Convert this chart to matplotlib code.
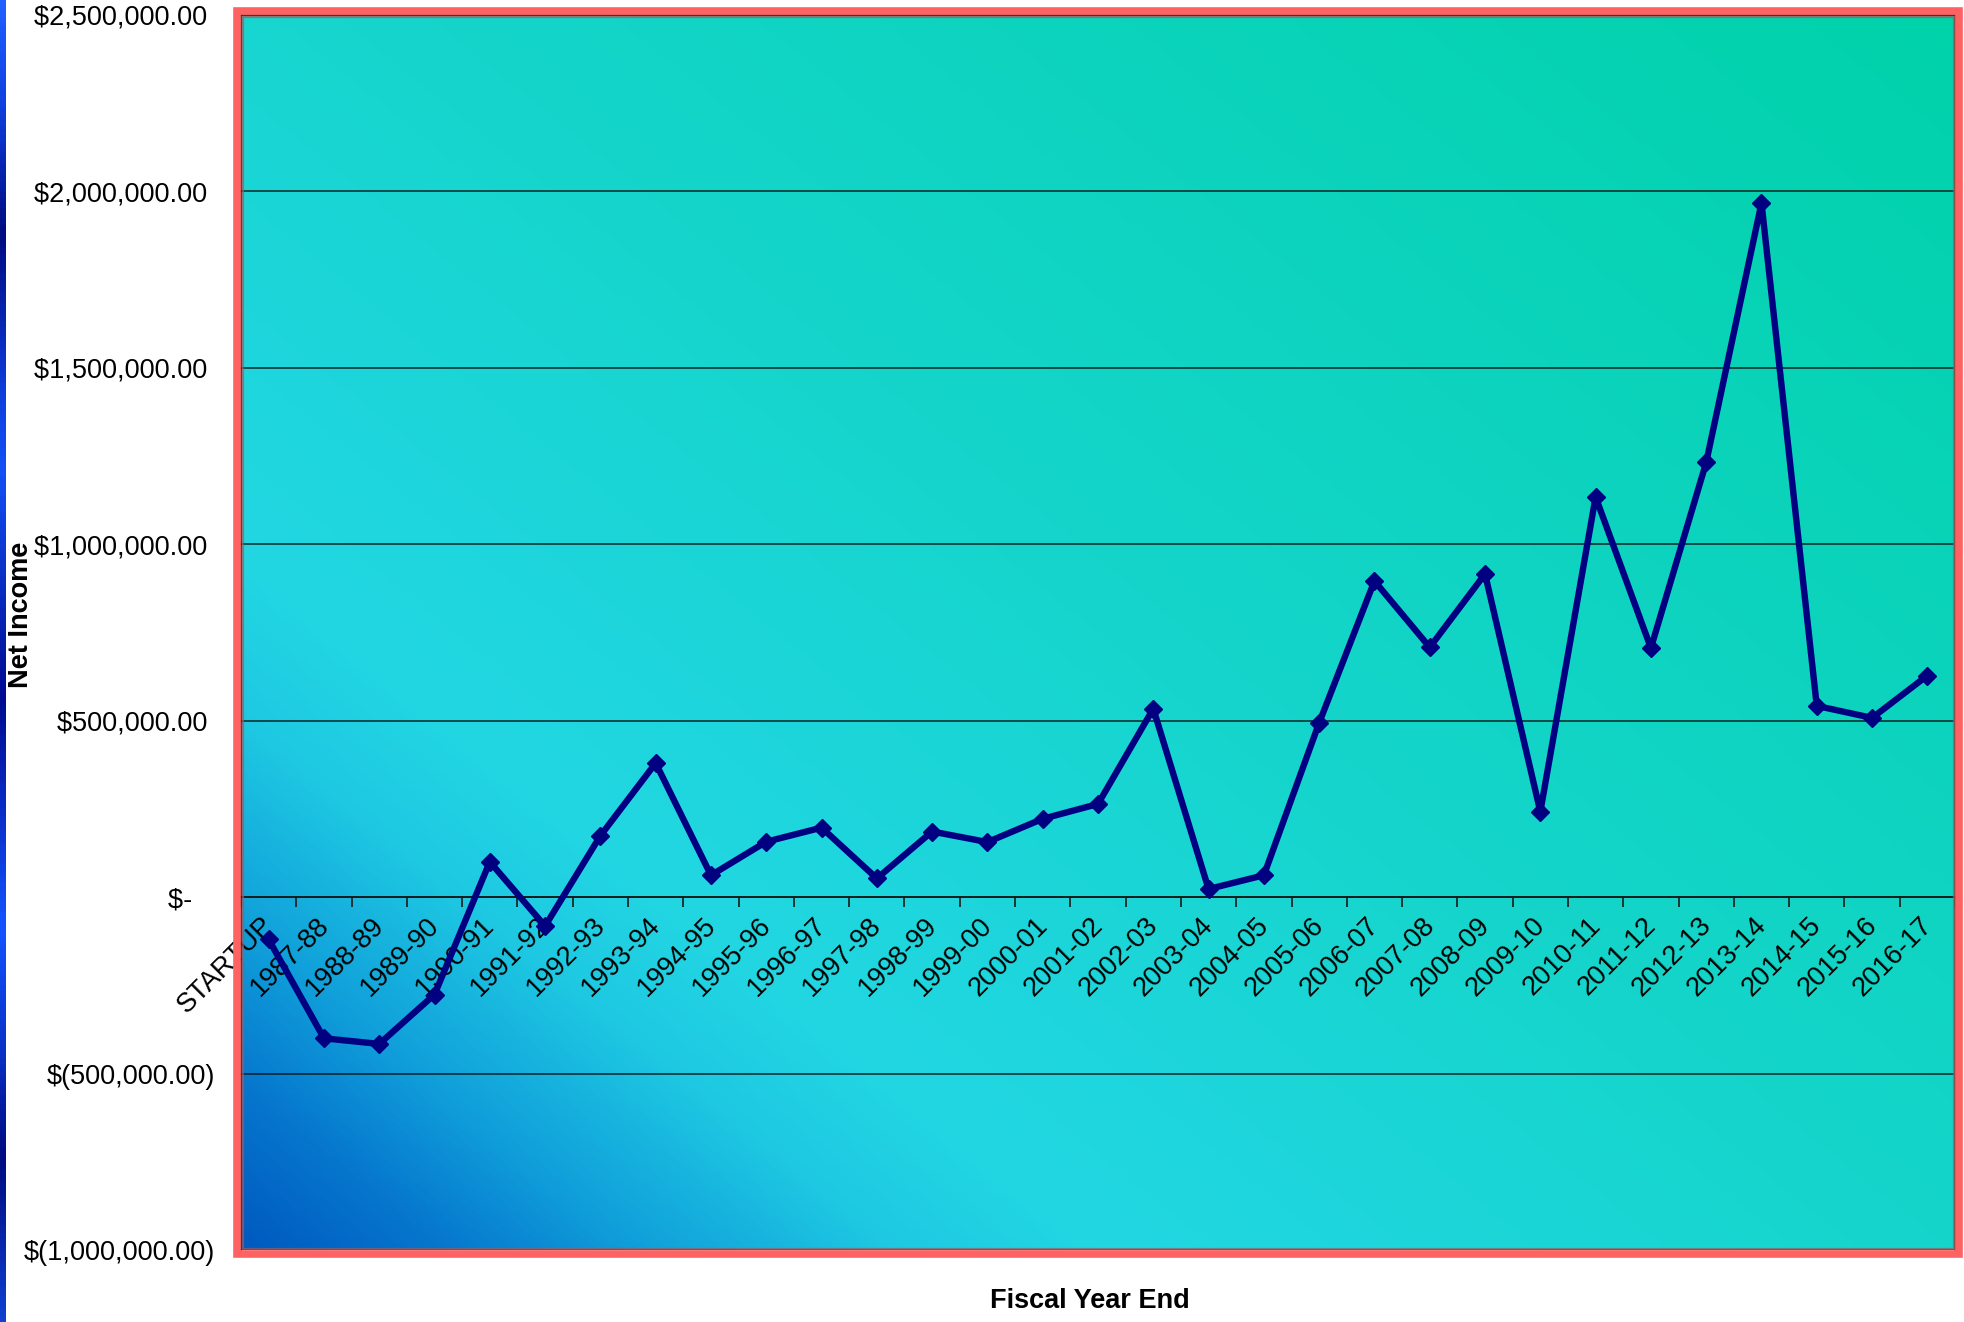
import numpy as np
import matplotlib
matplotlib.use("Agg")
import matplotlib.pyplot as plt
from matplotlib.colors import LinearSegmentedColormap
from matplotlib.patches import Rectangle
from matplotlib.transforms import ScaledTranslation

# ---------------- data ----------------
categories = ["STARTUP", "1987-88", "1988-89", "1989-90", "1990-91", "1991-92",
              "1992-93", "1993-94", "1994-95", "1995-96", "1996-97", "1997-98",
              "1998-99", "1999-00", "2000-01", "2001-02", "2002-03", "2003-04",
              "2004-05", "2005-06", "2006-07", "2007-08", "2008-09", "2009-10",
              "2010-11", "2011-12", "2012-13", "2013-14", "2014-15", "2015-16",
              "2016-17"]
net_income = [-120000, -400000, -416000, -276000, 100000, -82000,
              174000, 380000, 62000, 157000, 197000, 53000,
              186000, 156000, 222000, 264000, 534000, 23000,
              62000, 494000, 896000, 708000, 916000, 242000,
              1134000, 706000, 1232000, 1967000, 542000, 508000,
              628000]
y_ticks = [-1000000, -500000, 0, 500000, 1000000, 1500000, 2000000, 2500000]
y_tick_labels = ["$(1,000,000.00)", "$(500,000.00)", "$-   ", "$500,000.00 ",
                 "$1,000,000.00 ", "$1,500,000.00 ", "$2,000,000.00 ", "$2,500,000.00 "]
x_title = "Fiscal Year End"
y_title = "Net Income"

# ---------------- figure ----------------
W, H = 1965, 1322
DPI = 100
plt.rcParams['font.family'] = ['Liberation Sans', 'DejaVu Sans']
fig = plt.figure(figsize=(W / DPI, H / DPI), dpi=DPI)
fig.patch.set_facecolor('white')

ax_l, ax_r, ax_t, ax_b = 241, 1955, 15, 1250
ax = fig.add_axes([ax_l / W, 1 - ax_b / H, (ax_r - ax_l) / W, (ax_b - ax_t) / H])

# background gradient (bottom-left dark blue -> cyan -> green top-right)
aw, ah = ax_r - ax_l, ax_b - ax_t
xx, yy = np.meshgrid(np.linspace(0, aw, 400), np.linspace(0, ah, 300))
ux, uy = 0.63, 0.777
t = (xx * ux + yy * uy) / (aw * ux + ah * uy)
stops = [(0.0, (0, 90, 192)), (0.06, (6, 118, 205)), (0.12, (16, 158, 218)),
         (0.2, (30, 200, 226)), (0.26, (34, 214, 226)), (0.34, (30, 214, 221)),
         (0.5, (22, 213, 205)), (1.0, (0, 210, 170))]
cmap = LinearSegmentedColormap.from_list(
    "bg", [(p, tuple(c / 255 for c in col)) for p, col in stops])
ax.imshow(cmap(t), extent=[0, 1, 0, 1], origin='lower', transform=ax.transAxes,
          aspect='auto', zorder=-10, interpolation='bilinear')

x = np.arange(len(categories))
ax.plot(x, net_income, color='#000080', lw=4.6, marker='D', markersize=9.5,
        markerfacecolor='#000080', markeredgecolor='#000080', zorder=5,
        solid_joinstyle='round')

ax.set_xlim(-0.5, len(categories) - 0.5)
ax.set_ylim(-1000000, 2500000)

ax.set_yticks(y_ticks)
ax.set_yticklabels(y_tick_labels)
ax.yaxis.grid(True, color='#061818', lw=1.2, alpha=0.85, zorder=1)
ax.tick_params(axis='y', length=5, width=1, pad=14, labelsize=19.5, color='black')

# x axis at y = 0, ticks between categories, labels at category centres
ax.spines['bottom'].set_position(('data', 0))
ax.spines['bottom'].set_color('#1a1a1a')
ax.spines['bottom'].set_linewidth(1.3)
ax.set_xticks(np.arange(-0.5, len(categories), 1.0))
ax.set_xticklabels([])
ax.set_xticks(x, minor=True)
ax.set_xticklabels(categories, minor=True, rotation=45, ha='right', va='top',
                   rotation_mode='anchor', fontsize=19.5)
ax.tick_params(axis='x', which='major', length=7, width=1.2, direction='out', color='#1a1a1a')
ax.tick_params(axis='x', which='minor', length=0, pad=11)
shift = ScaledTranslation(-6 / 72, 0, fig.dpi_scale_trans)
for lab in ax.get_xticklabels(minor=True):
    lab.set_transform(lab.get_transform() + shift)

for s in ['top', 'right', 'left']:
    ax.spines[s].set_color('#333333')
    ax.spines[s].set_linewidth(1.2)

# red plot-area border
fig.patches.append(Rectangle((ax_l - 4, H - ax_b - 4), aw + 8, ah + 8,
                             transform=None, fill=False, edgecolor='#ff6262',
                             lw=5.5, zorder=10))
fig.patches.append(Rectangle((ax_l + 1.5, H - ax_b + 1.5), aw - 3, ah - 3,
                             transform=None, fill=False, edgecolor='#a85858',
                             lw=1.6, alpha=0.7, zorder=10))

# axis titles
fig.text(1090 / W, 1 - 1301 / H, x_title, ha='center', va='center',
         fontsize=19.5, fontweight='bold')
fig.text(21 / W, 1 - 615 / H, y_title, ha='center', va='center', rotation=90,
         fontsize=19.5, fontweight='bold')

# blue stripe at left edge
bar_ax = fig.add_axes([0, 0, 6 / W, 1])
bar_ax.axis('off')
bstops = [(0.0, (32, 96, 255)), (100 / H, (16, 64, 224)), (230 / H, (0, 10, 128)),
          (400 / H, (16, 64, 224)), (470 / H, (20, 80, 245)), (700 / H, (0, 10, 144)),
          (930 / H, (20, 84, 255)), (1050 / H, (10, 50, 200)), (1160 / H, (0, 10, 128)),
          (1.0, (16, 64, 208))]
bcmap = LinearSegmentedColormap.from_list(
    "bar", [(p, tuple(c / 255 for c in col)) for p, col in bstops])
bar_ax.imshow(bcmap(np.linspace(0, 1, 400))[:, None, :], aspect='auto',
              extent=[0, 1, 0, 1], origin='upper')

fig.savefig("out.png", dpi=DPI)
